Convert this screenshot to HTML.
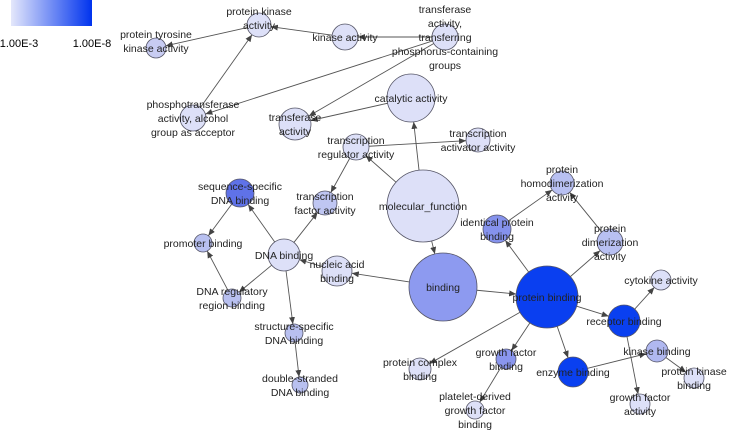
<!DOCTYPE html>
<html><head><meta charset="utf-8"><style>
html,body{margin:0;padding:0;background:#fff;}
svg{display:block;font-family:"Liberation Sans",Arial,sans-serif;}
text{font-size:10.5px;fill:#222;text-anchor:middle;}
</style></head><body>
<svg id="s" width="736" height="432" viewBox="0 0 736 432">
<defs>
<linearGradient id="g" x1="0" x2="1"><stop offset="0" stop-color="#e4e7fb"/><stop offset="1" stop-color="#0033ee"/></linearGradient>
<marker id="a" markerWidth="7" markerHeight="6" refX="7" refY="3" orient="auto" markerUnits="userSpaceOnUse"><path d="M0,0L7,3L0,6z" fill="#444"/></marker>
</defs>
<rect x="11" y="0" width="81" height="26" fill="url(#g)"/>
<text x="19" y="47" style="font-size:11px;fill:#000">1.00E-3</text>
<text x="92" y="47" style="font-size:11px;fill:#000">1.00E-8</text>
<g id="e" stroke="#555" stroke-width="0.9" fill="none"></g>
<g id="n" stroke="#556" stroke-width="0.8"></g>
<g id="t"></g>
</svg>
<script>
var N={
ptk:[156,48,10,"#c8ccf2",["protein tyrosine","kinase activity"],-1],
pk:[259,25,12,"#dde0f8",["protein kinase","activity"],-1],
ka:[345,37,13,"#dde0f8",["kinase activity"],0],
tp:[445,37,13,"#dde0f8",["transferase","activity,","transferring","phosphorus-containing","groups"],-2],
ph:[193,118,13,"#dde0f8",["phosphotransferase","activity, alcohol","group as acceptor"],-1],
ta:[295,124,16,"#dde0f8",["transferase","activity"],-0.5],
ca:[411,98,24,"#dde0f8",["catalytic activity"],0],
tr:[356,147,13,"#dde0f8",["transcription","regulator activity"],-0.5],
tac:[478,140,12,"#dde0f8",["transcription","activator activity"],-0.5],
mf:[423,206,36,"#dde0f8",["molecular_function"],0],
ss:[240,193,14,"#5f72e8",["sequence-specific","DNA binding"],-0.5],
tf:[325,203,12,"#bfc6f2",["transcription","factor activity"],-0.5],
pb:[203,243,9,"#b8c0f0",["promoter binding"],0],
db:[284,255,16,"#dde0f8",["DNA binding"],0],
na:[337,271,15,"#dde0f8",["nucleic acid","binding"],-0.5],
bi:[443,287,34,"#8d9af0",["binding"],0],
dr:[232,298,9,"#b8c0f0",["DNA regulatory","region binding"],-0.5],
st:[294,333,9,"#b8c0f0",["structure-specific","DNA binding"],-0.5],
ds:[300,385,8,"#b8c0f0",["double-stranded","DNA binding"],-0.5],
ip:[497,229,14,"#8592ec",["identical protein","binding"],-0.5],
ph2:[562,183,12,"#b8c0f2",["protein","homodimerization","activity"],-1],
pd:[610,242,13,"#b8c0f2",["protein","dimerization","activity"],-1],
pr:[547,297,31,"#0a3ff0",["protein binding"],0],
cy:[661,280,10,"#dde0f8",["cytokine activity"],0],
rb:[624,321,16,"#0a40f0",["receptor binding"],0],
kb:[657,351,11,"#b0b8f0",["kinase binding"],0],
pkb:[694,378,10,"#dde0f8",["protein kinase","binding"],-0.5],
gfa:[640,404,10,"#dde0f8",["growth factor","activity"],-0.5],
eb:[573,372,15,"#0a40f0",["enzyme binding"],0],
gfb:[506,359,10,"#8a96ee",["growth factor","binding"],-0.5],
pc:[420,369,11,"#dde0f8",["protein complex","binding"],-0.5],
pl:[475,410,9,"#dde0f8",["platelet-derived","growth factor","binding"],-1]
};
var E=[["pk","ptk"],["ka","pk"],["tp","ka"],["ph","pk"],["tp","ph"],["tp","ta"],["ca","ta"],["mf","ca"],["tr","tac"],["mf","tr"],["tr","tf"],["mf","bi"],["db","ss"],["db","tf"],["ss","pb"],["dr","pb"],["db","dr"],["db","st"],["st","ds"],["na","db"],["bi","na"],["bi","pr"],["pr","ip"],["ip","ph2"],["pd","ph2"],["pr","pd"],["pr","rb"],["rb","cy"],["rb","gfa"],["pr","eb"],["eb","kb"],["kb","pkb"],["pr","gfb"],["gfb","pl"],["pr","pc"]];
var ns="http://www.w3.org/2000/svg";
function el(t,a,p){var e=document.createElementNS(ns,t);for(var k in a)e.setAttribute(k,a[k]);p.appendChild(e);return e;}
var ge=document.getElementById("e"),gn=document.getElementById("n"),gt=document.getElementById("t");
E.forEach(function(p){var A=N[p[0]],B=N[p[1]];var dx=B[0]-A[0],dy=B[1]-A[1],d=Math.hypot(dx,dy);
el("line",{x1:A[0]+dx/d*A[2],y1:A[1]+dy/d*A[2],x2:B[0]-dx/d*B[2],y2:B[1]-dy/d*B[2],"marker-end":"url(#a)"},ge);});
for(var k in N){var v=N[k];el("circle",{cx:v[0],cy:v[1],r:v[2],fill:v[3]},gn);}
for(var k in N){var v=N[k];v[4].forEach(function(s,i){var t=el("text",{x:v[0],y:v[1]+4+(v[5]+i)*14},gt);t.textContent=s;});}
</script>
</body></html>
